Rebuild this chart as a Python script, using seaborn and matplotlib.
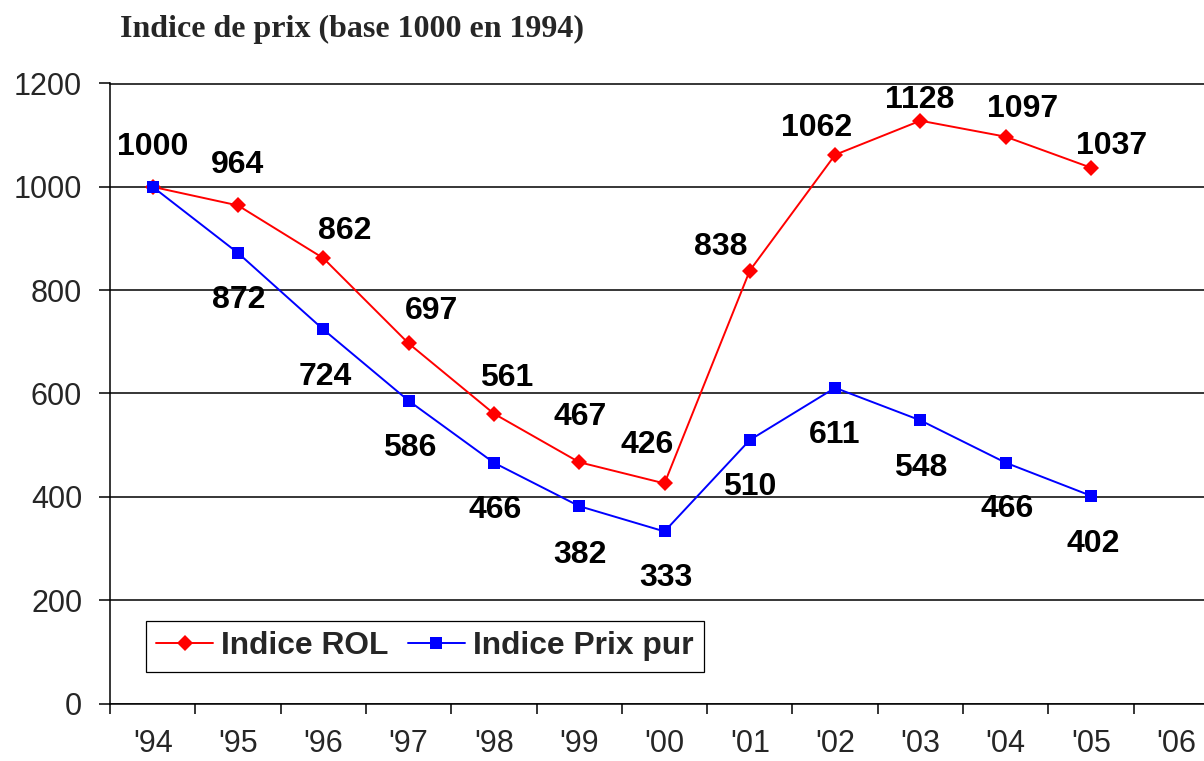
import numpy as np
import pandas as pd
import matplotlib
matplotlib.use("Agg")
import matplotlib.pyplot as plt
from matplotlib.lines import Line2D
import seaborn as sns

# ---------------- data ----------------
years = ["'94", "'95", "'96", "'97", "'98", "'99", "'00", "'01", "'02", "'03", "'04", "'05", "'06"]
rol = [1000, 964, 862, 697, 561, 467, 426, 838, 1062, 1128, 1097, 1037]
prix_pur = [1000, 872, 724, 586, 466, 382, 333, 510, 611, 548, 466, 402]
series_names = ["Indice ROL", "Indice Prix pur"]
title = "Indice de prix (base 1000 en 1994)"
yticks = [0, 200, 400, 600, 800, 1000, 1200]

# label offsets (pixels, label centre relative to point, +y = up)
rol_off = [(0, 43), (0, 44), (21, 31), (23, 36), (13, 39), (1, 49), (-17, 42),
           (-29, 27), (-19, 30), (-1, 24), (17, 31), (21, 25)]
pur_off = [None, (1, -44), (2, -44), (1, -44), (1, -44), (1, -45), (1, -43),
           (0, -44), (0, -44), (0, -44), (1, -43), (2, -45)]

# ---------------- style ----------------
sns.set_style("ticks")
plt.rcParams["font.family"] = ["Liberation Sans", "DejaVu Sans"]

W, H, DPI = 1204, 761, 100
fig = plt.figure(figsize=(W / DPI, H / DPI), dpi=DPI)
ax = fig.add_axes([110 / W, (H - 703.5) / H, 1109 / W, 620 / H])

colors = {"Indice ROL": "#FF0000", "Indice Prix pur": "#0000FF"}
markers = {"Indice ROL": "D", "Indice Prix pur": "s"}
msize = {"D": 8.5, "s": 8.5}

df = pd.DataFrame({"x": np.arange(len(rol)), series_names[0]: rol, series_names[1]: prix_pur})
long = df.melt(id_vars="x", var_name="serie", value_name="valeur")

ax.yaxis.grid(True, color="black", linewidth=1.1, zorder=0)
ax.set_axisbelow(True)

sns.lineplot(data=long, x="x", y="valeur", hue="serie", style="serie",
             hue_order=series_names, style_order=series_names,
             palette=colors, markers=markers, dashes=False,
             linewidth=1.4, markersize=8.5, markeredgewidth=0,
             legend=False, ax=ax, zorder=3)
for ln in ax.get_lines():
    m = ln.get_marker()
    if m in msize:
        ln.set_markersize(msize[m])

ax.set_xlim(-0.5, len(years) - 0.5)
ax.set_ylim(0, 1200)
ax.set_xlabel("")
ax.set_ylabel("")

# y axis
ax.set_yticks(yticks)
ax.set_yticklabels([str(v) for v in yticks])
ax.tick_params(axis="y", which="major", direction="out", length=8, width=1.1,
               pad=12, labelsize=22, color="black")

# x axis: labels at centres, tick marks at boundaries
ax.set_xticks(np.arange(len(years)))
ax.set_xticklabels(years)
ax.set_xticks(np.arange(len(years) + 1) - 0.5, minor=True)
ax.tick_params(axis="x", which="major", length=0, pad=18.5, labelsize=22)
ax.tick_params(axis="x", which="minor", direction="out", length=7.2, width=1.1, color="black")

for s in ["left", "bottom", "top"]:
    ax.spines[s].set_visible(True)
    ax.spines[s].set_color("black")
    ax.spines[s].set_linewidth(1.1)
ax.spines["right"].set_visible(False)

# data labels
fs_lab = 23
half_cap = 0.716 * fs_lab * DPI / 72 / 2
for i, v in enumerate(rol):
    dx, dy = rol_off[i]
    ax.annotate(str(v), xy=(i, v), xytext=(dx, dy - half_cap), textcoords="offset pixels",
                ha="center", va="baseline", fontsize=fs_lab, fontweight="bold",
                color="black", zorder=5)
for i, v in enumerate(prix_pur):
    if pur_off[i] is None:
        continue
    dx, dy = pur_off[i]
    ax.annotate(str(v), xy=(i, v), xytext=(dx, dy - half_cap), textcoords="offset pixels",
                ha="center", va="baseline", fontsize=fs_lab, fontweight="bold",
                color="black", zorder=5)

# legend
handles = [Line2D([], [], color=colors[n], marker=markers[n], linewidth=1.4,
                  markersize=msize[markers[n]], markeredgewidth=0)
           for n in series_names]
leg = fig.legend(handles, series_names, loc="upper left",
                 bbox_to_anchor=(146 / W, 1 - 621 / H), bbox_transform=fig.transFigure,
                 ncol=2, frameon=True, fancybox=False, shadow=False, framealpha=1,
                 edgecolor="black", borderpad=0.33, handlelength=1.78,
                 handletextpad=0.25, columnspacing=0.62, borderaxespad=0,
                 prop={"family": "Liberation Sans", "weight": "bold", "size": 22.9})
leg.get_frame().set_linewidth(0.9)

# title
fig.text(120 / W, 1 - 37 / H, title, ha="left", va="baseline",
         fontsize=23, fontweight="bold", family=["Liberation Serif", "DejaVu Serif"])

fig.savefig("out.png", dpi=DPI)
